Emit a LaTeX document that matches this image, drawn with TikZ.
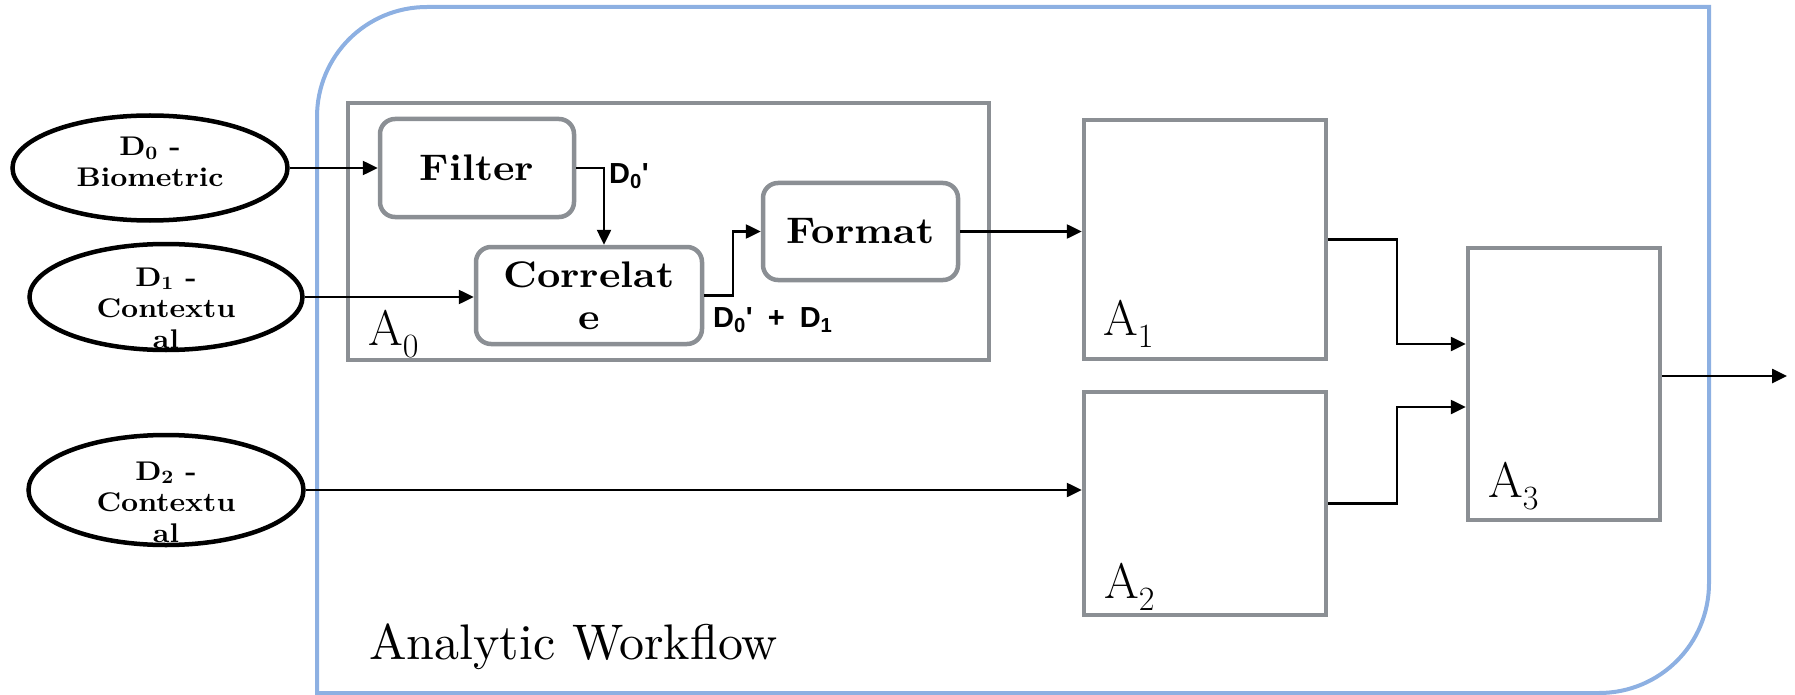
\documentclass[tikz,border=0pt]{standalone}
\usepackage{fontspec}
\newfontfamily\flowsf{Liberation Sans}
\newfontfamily\widerm{lmroman10}[Extension=.otf, UprightFont=*-regular, BoldFont=*-bold, FakeStretch=1.1]
\newfontfamily\titlerm{lmroman10}[Extension=.otf, UprightFont=*-regular]
\usetikzlibrary{shapes.geometric,arrows.meta,calc}
\definecolor{frameblue}{RGB}{141,176,226}
\definecolor{boxgray}{RGB}{139,143,148}
\newcommand\stagename[1]{A\raisebox{-12pt}{\fontsize{34}{40}\selectfont #1}}
\tikzset{
  src/.style={ellipse, draw=black, line width=4.5pt, minimum width=275pt, minimum height=105pt, inner sep=0pt},
  srctext/.style={align=center, inner sep=0pt, font=\widerm\bfseries\fontsize{27}{31}\selectfont},
  proc/.style={draw=boxgray, line width=4.5pt, rounded corners=15pt, inner sep=0pt, align=center, font=\widerm\bfseries\fontsize{37}{42}\selectfont},
  stage/.style={draw=boxgray, line width=4.5pt, inner sep=0pt},
  stagelabel/.style={anchor=base west, inner sep=0pt, font=\fontsize{50}{60}\selectfont},
  flowlabel/.style={anchor=base west, inner sep=0pt, font=\flowsf\bfseries\fontsize{29}{33}\selectfont},
  conn/.style={draw=black, line width=2.5pt, -{Triangle[length=15pt,width=14pt]}},
}
\begin{document}
\begin{tikzpicture}[x=1pt, y=-1pt]
\useasboundingbox (0,0) rectangle (1795,695);

% workflow frame: rounded at top left and bottom right only
\draw[frameblue, line width=4pt]
  (317,693) -- (317,117) .. controls (317,56) and (366,7) .. (427,7)
  -- (1709,7) -- (1709,583) .. controls (1709,644) and (1660,693) .. (1599,693)
  -- cycle;
\node[anchor=base west, inner sep=0pt, font=\titlerm\fontsize{50}{60}\selectfont] (wf) at (369,659) {Analytic Workflow};

% data sources
\node[src] (d0) at (150,168) {};
\node[srctext] (d0t) at (150,162) {D\textsubscript{0} -\\Biometric};
\node[src, minimum width=273pt, minimum height=106pt] (d1) at (166,297) {};
\node[srctext] (d1t) at (166,308) {D\textsubscript{1} -\\Contextu\\al};
\node[src, minimum height=110pt] (d2) at (166,490) {};
\node[srctext] (d2t) at (166,502) {D\textsubscript{2} -\\Contextu\\al};

% analytic stages
\node[stage, minimum width=641pt, minimum height=257pt] (a0) at (668.5,231.5) {};
\node[stage, minimum width=242pt, minimum height=239pt] (a1) at (1205,239.5) {};
\node[stage, minimum width=242pt, minimum height=223pt] (a2) at (1205,503.5) {};
\node[stage, minimum width=192pt, minimum height=272pt] (a3) at (1564,384) {};
\node[stagelabel] (a0l) at (368,345) {\stagename{0}};
\node[stagelabel] (a1l) at (1103,335) {\stagename{1}};
\node[stagelabel] (a2l) at (1104,598) {\stagename{2}};
\node[stagelabel] (a3l) at (1488,497) {\stagename{3}};

% steps inside A0
\node[proc, minimum width=194pt, minimum height=98pt] (filter) at (477,168) {Filter};
\node[proc, minimum width=226pt, minimum height=97pt] (corr) at (589,295.5) {Correlat\\e};
\node[proc, minimum width=195pt, minimum height=97pt] (fmt) at (860.5,231.5) {Format};

% bend points
\coordinate (j1) at (604,168);
\coordinate (j2) at (733,0);
\coordinate (j3) at (1397,0);
\coordinate (out) at (1787,376);

% connectors
\draw[conn] (d0.east) -- (filter.west);
\draw[conn] (d1.east) -- (d1.east -| corr.west);
\draw[conn] (filter.east) -- (j1) -- (j1 |- corr.north);
\draw[conn] (corr.east) -- (corr.east -| j2) -- (j2 |- fmt.west) -- (fmt.west);
\draw[conn] (fmt.east) -- (fmt.east -| a1.west);
\draw[conn] (d2.east) -- (d2.east -| a2.west);
\draw[conn] (a1.east) -- (a1.east -| j3) -- ($(j3 |- a3.west)+(0,-40)$) -- ($(a3.west)+(0,-40)$);
\draw[conn] (a2.east) -- (a2.east -| j3) -- ($(j3 |- a3.west)+(0,23)$) -- ($(a3.west)+(0,23)$);
\draw[conn] ($(a3.east)+(0,-8)$) -- (out);

% flow labels
\node[flowlabel] (l0) at (609,183) {D\textsubscript{0}\textquotesingle};
\node[flowlabel] (l1) at (713,327) {D\textsubscript{0}\textquotesingle\hspace{15pt}+\hspace{15pt}D\textsubscript{1}};
\end{tikzpicture}
\end{document}
